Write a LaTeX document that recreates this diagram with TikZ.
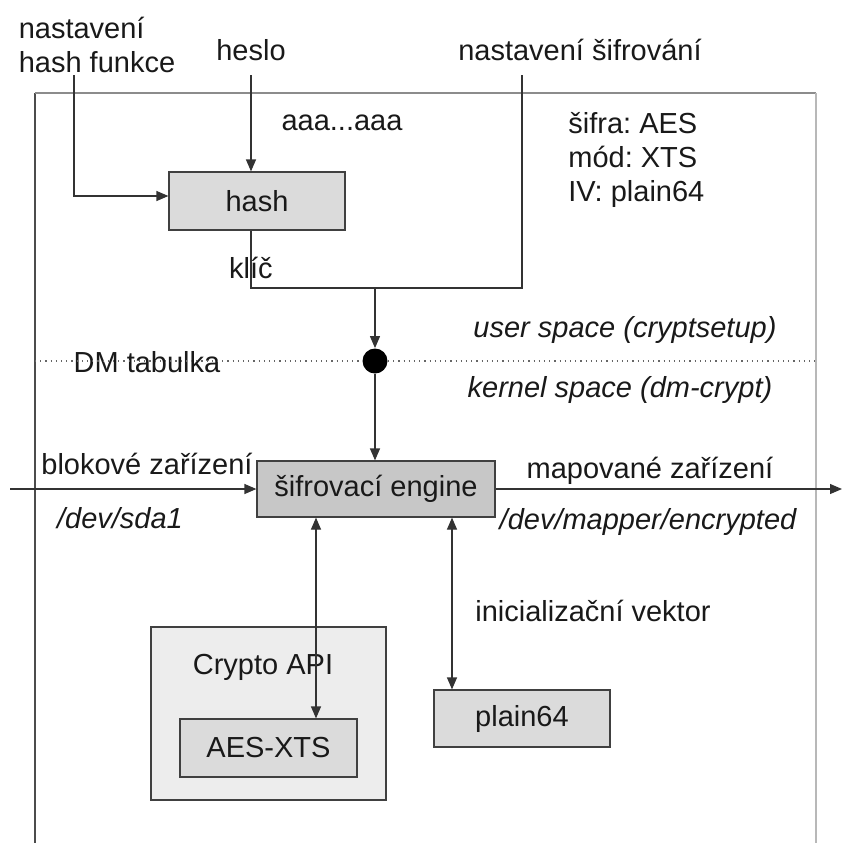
\documentclass[tikz,border=0pt]{standalone}
\usepackage{fontspec}
\setmainfont{Liberation Sans}
\frenchspacing
\usetikzlibrary{arrows.meta,positioning}
\begin{document}
\begin{tikzpicture}[x=0.5pt, y=-0.5pt, font=\fontsize{14.5}{17}\selectfont, text=black!90, box/.style={draw=black!75, line width=0.6pt, fill=black!14, minimum width=88pt, minimum height=29pt, inner sep=0pt, align=center}, arr/.style={-{Triangle[length=6pt, width=5pt]}, line width=0.6pt, black!80}, arrtwo/.style={{Triangle[length=6pt, width=5pt]}-{Triangle[length=6pt, width=5pt]}, line width=0.6pt, black!80}, lbl/.style={inner sep=0pt, align=left}, dmdot/.style={circle, fill=black, minimum size=12.5pt, inner sep=0pt}]
\useasboundingbox (0,0) rectangle (843,843);
% frame of the user/kernel region
\coordinate (fbl) at (35,843); \coordinate (ftl) at (35,93); \coordinate (ftr) at (816,93); \coordinate (fbr) at (816,843);
\draw[black!70, line width=0.6pt] (fbl) -- (ftl); \draw[black!45, line width=0.6pt] (ftl) -- (ftr); \draw[black!28, line width=0.8pt] (ftr) -- (fbr);
% boxes
\node[box] (hash) at (257,201) {hash}; \node[box, fill=black!22, minimum width=119pt, minimum height=28pt] (engine) at (376,489) {šifrovací engine};
\node[box, fill=black!7, minimum width=117.5pt, minimum height=86.5pt] (api) at (268.5,713.5) {}; \node[lbl] (apilbl) at (263,667) {Crypto API};
\node[box, minimum width=88.5pt] (aes) at (268.5,748) {AES-XTS}; \node[box, minimum height=28.5pt] (plain) at (522,718.5) {plain64};
\node[dmdot] (dm) at (375,361) {};
% labels
\node[lbl] (lhf) at (97,45) {nastavení\\hash funkce}; \node[lbl] (lheslo) at (251,50) {heslo}; \node[lbl] (lsif) at (580,50) {nastavení šifrování};
\node[lbl] (laaa) at (342,123) {aaa...aaa}; \node[lbl, anchor=west] (lconf) at (568,160) {šifra: AES\\mód: XTS\\IV: plain64}; \node[lbl] (lkey) at (251,268) {klíč};
\node[lbl] (ldm) at (147,362) {DM tabulka}; \node[lbl, font=\fontsize{14.5}{17}\selectfont\itshape] (luser) at (625,330) {user space (cryptsetup)}; \node[lbl, font=\fontsize{14.5}{17}\selectfont\itshape] (lkern) at (620,390) {kernel space (dm-crypt)};
\node[lbl] (lblk) at (147,464) {blokové zařízení}; \node[lbl, font=\fontsize{14.5}{17}\selectfont\itshape] (lsda) at (120,518) {/dev/sda1};
\node[lbl] (lmap) at (650,471) {mapované zařízení}; \node[lbl, font=\fontsize{14.5}{17}\selectfont\itshape] (lmapdev) at (648,522) {/dev/mapper/encrypted};
\node[lbl] (liv) at (593,611) {inicializační vektor};
% connectors
\coordinate (hfin) at (74,75); \coordinate (hesloin) at (251,75); \coordinate (sifin) at (522,75); \coordinate (join) at (375,288);
\draw[arr] (hfin) |- ([yshift=2.5pt]hash.west); \draw[arr] (hesloin) -- (hesloin |- hash.north);
\draw[line width=0.6pt, black!80] (hesloin |- hash.south) |- (sifin |- join) -- (sifin); \draw[arr] (join) -- (dm.north);
\draw[arr] (dm.south) -- (dm.south |- engine.north);
\coordinate (dl) at (35,361); \coordinate (dr) at (816,361);
\draw[dotted, black!60, line width=0.6pt] (dl) -- (dm.west); \draw[dotted, black!60, line width=0.6pt] (dm.east) -- (dr);
\coordinate (devin) at (10,489); \coordinate (devout) at (842,489);
\draw[arr] (devin) -- (engine.west); \draw[arr] (engine.east) -- (devout);
\draw[arrtwo] ([xshift=-30pt]engine.south) -- ([xshift=-30pt]engine.south |- aes.north); \draw[arrtwo] ([xshift=38pt]engine.south) -- ([xshift=38pt]engine.south |- plain.north);
\end{tikzpicture}
\end{document}
